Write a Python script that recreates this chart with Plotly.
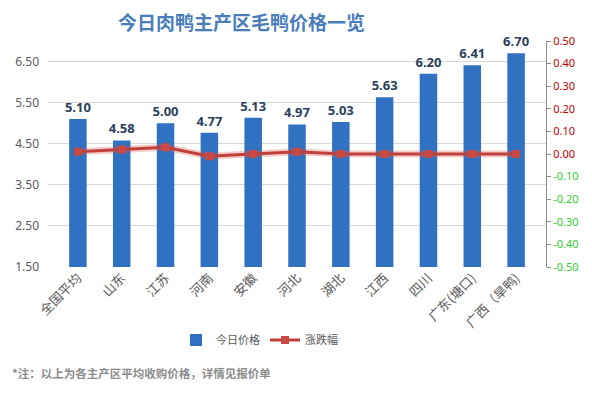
import plotly.graph_objects as go

categories = ["全国平均", "山东", "江苏", "河南", "安徽", "河北", "湖北", "江西", "四川", "广东(塘口)", "广西（旱鸭)"]
prices = [5.10, 4.58, 5.00, 4.77, 5.13, 4.97, 5.03, 5.63, 6.20, 6.41, 6.70]
changes = [0.01, 0.02, 0.03, -0.01, 0.00, 0.01, 0.00, 0.00, 0.00, 0.00, 0.00]
left_ticks = [1.5, 2.5, 3.5, 4.5, 5.5, 6.5]
right_ticks = [0.5, 0.4, 0.3, 0.2, 0.1, 0.0, -0.1, -0.2, -0.3, -0.4, -0.5]

font_cjk = "Noto Sans CJK SC, Noto Sans, sans-serif"
grey = "#595959"

right_text = []
for v in right_ticks:
    col = "#c00000" if v >= -1e-9 else "#33cc33"
    right_text.append(f"<span style='color:{col}'>{v:.2f}</span>")

fig = go.Figure()
fig.add_trace(go.Bar(
    x=categories, y=prices, name="今日价格",
    marker=dict(color="#3171c1", line=dict(width=0)),
    texttemplate="%{y:.2f}", textposition="outside", constraintext="none",
    textfont=dict(family="Noto Sans, sans-serif", size=13, color="#2b3f5c", weight="bold"),
    cliponaxis=False,
))
fig.add_trace(go.Scatter(
    x=categories, y=changes, yaxis="y2", mode="lines",
    line=dict(color="rgba(220,90,80,0.3)", width=7),
    showlegend=False, hoverinfo="skip",
))
fig.add_trace(go.Scatter(
    x=categories, y=changes, yaxis="y2", name="涨跌幅", mode="lines+markers",
    line=dict(color="#c0403a", width=3),
    marker=dict(symbol="square", size=8, color="#c94a44"),
))

# page has an 8px body margin, so the figure is offset by (8, 8)
fig.update_layout(
    width=584, height=385,
    margin=dict(l=40, r=46, t=33, b=126, autoexpand=False),
    paper_bgcolor="white", plot_bgcolor="white",
    font=dict(family=font_cjk, color=grey, size=11),
    bargap=0.6,
    showlegend=True,
    legend=dict(orientation="h", x=(176 - 48) / 498, xanchor="left", y=-(340 - 267) / 226,
                yanchor="middle", entrywidth=44, entrywidthmode="pixels",
                font=dict(size=11, color=grey), bgcolor="rgba(0,0,0,0)"),
    xaxis=dict(type="category", tickangle=-45, showgrid=False, showline=False, automargin=False,
               ticks="", tickfont=dict(size=13, color=grey, family=font_cjk)),
    yaxis=dict(range=[1.5, 7.0], tickvals=left_ticks, ticktext=[f"{v:.2f}" for v in left_ticks],
               showgrid=True, gridcolor="#d9d9d9", gridwidth=1, zeroline=False, automargin=False,
               showline=False, ticks="", tickfont=dict(size=12, color=grey, family="Noto Sans, sans-serif"),
               ticklabelstandoff=8),
    yaxis2=dict(range=[-0.5, 0.5], overlaying="y", side="right", tickvals=right_ticks,
                ticktext=right_text, showgrid=False, zeroline=False, automargin=False,
                showline=True, linecolor="#8c8c8c", linewidth=1, ticks="outside",
                ticklen=4, tickcolor="#8c8c8c",
                tickfont=dict(size=11, family="Noto Sans, sans-serif")),
    annotations=[
        dict(text="<b>今日肉鸭主产区毛鸭价格一览</b>", xref="paper", yref="paper",
             x=(241 - 48) / 498, y=1 + (41 - 22) / 226, xanchor="center", yanchor="middle",
             showarrow=False, font=dict(size=19, color="#4a7ebb", family=font_cjk)),
        dict(text="<b>*注：以上为各主产区平均收购价格，详情见报价单</b>", xref="paper", yref="paper",
             x=(10 - 48) / 498, y=-(373 - 267) / 226, xanchor="left", yanchor="middle",
             showarrow=False, font=dict(size=11.5, color="#8c8c8c", family=font_cjk)),
    ],
)

fig.write_html("out.html")
